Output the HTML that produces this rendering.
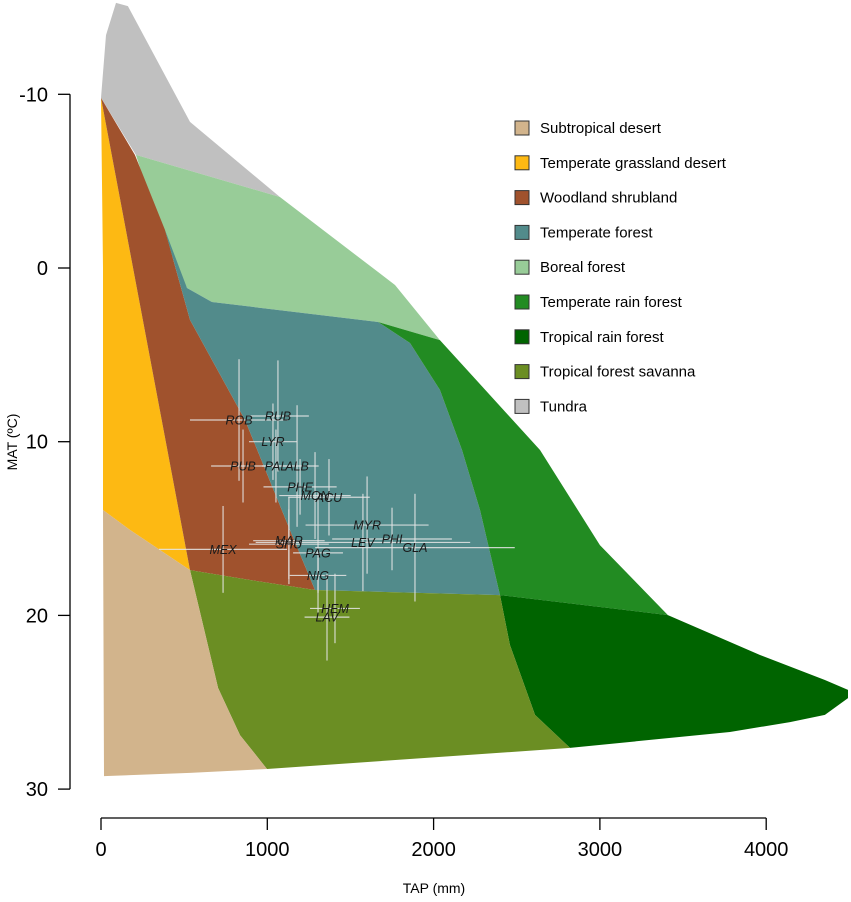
<!DOCTYPE html>
<html><head><meta charset="utf-8"><style>
body{margin:0;background:#fff}
svg{display:block;font-family:"Liberation Sans",sans-serif}
</style></head><body>
<svg id="chart" width="851" height="902" viewBox="0 0 851 902"></svg>
<script>
// ---- data ----
const xTicks=[0,1000,2000,3000,4000];
const yTicks=[-10,0,10,20,30];
const biomeNames=["Tundra","Boreal forest","Temperate grassland desert","Woodland shrubland","Temperate forest","Temperate rain forest","Tropical rain forest","Tropical forest savanna","Subtropical desert"];
const biomeColors=["#c0c0c0","#98cc98","#fdb913","#a0522d","#528b8b","#228b22","#006400","#6b8e23","#d2b48c"];
// polygons as [TAP mm, MAT °C]
const tundraPoly=[[0,-9.79],[30,-13.41],[90,-15.26],[162,-15.08],[535,-8.41],[1076,-4.09],[210,-6.51]];
const borealPoly=[[210,-6.51],[1076,-4.09],[1768,0.98],[2038,4.15],[1666,3.11],[667,1.96],[517,1.15],[355,-2.19]];
const grassPoly=[[0,-9.79],[535,17.39],[174,15.08],[12,13.93],[12,0]];
const woodPoly=[[0,-9.79],[204,-6.51],[385,-2.19],[535,2.99],[866,8.75],[1136,15.08],[1287,18.54],[896,17.96],[535,17.39]];
const tempForPoly=[[385,-2.19],[517,1.15],[667,1.96],[1666,3.11],[1858,4.32],[2038,7.02],[2171,10.48],[2279,13.93],[2399,18.83],[1287,18.54],[1136,15.08],[866,8.75],[535,2.99]];
const tempRainPoly=[[1666,3.11],[2038,4.15],[2640,10.48],[3000,15.95],[3409,19.98],[2399,18.83],[2279,13.93],[2171,10.48],[2038,7.02],[1858,4.32]];
const tropRainPoly=[[2399,18.83],[3409,19.98],[3963,22.28],[4353,23.72],[4492,24.29],[4492,24.76],[4353,25.73],[4143,26.14],[3782,26.71],[2820,27.63],[2610,25.73],[2459,21.7]];
const savPoly=[[535,17.39],[896,17.96],[1287,18.54],[2399,18.83],[2459,21.7],[2610,25.73],[2820,27.63],[998,28.84],[836,26.89],[704,24.18]];
const desertPoly=[[12,13.93],[174,15.08],[535,17.39],[704,24.18],[836,26.89],[998,28.84],[535,29.07],[18,29.25]];
const polys=[tundraPoly,borealPoly,grassPoly,woodPoly,tempForPoly,tempRainPoly,tropRainPoly,savPoly,desertPoly];
const legendNames=["Subtropical desert","Temperate grassland desert","Woodland shrubland","Temperate forest","Boreal forest","Temperate rain forest","Tropical rain forest","Tropical forest savanna","Tundra"];
const legendColors=["#d2b48c","#fdb913","#a0522d","#528b8b","#98cc98","#228b22","#006400","#6b8e23","#c0c0c0"];
const siteNames=["ROB","RUB","LYR","PUB","PAL","ALB","PHE","MON","ACU","MYR","MAR","SHU","LEV","PHI","GLA","MEX","PAG","NIG","HEM","LAV"];
const siteTAP=[830,1064,1034,854,1052,1179,1197,1287,1371,1600,1130,1130,1575,1750,1888,734,1305,1305,1407,1359];
const siteMAT=[8.75,8.52,10.0,11.4,11.4,11.4,12.6,13.1,13.2,14.8,15.7,15.9,15.8,15.6,16.1,16.2,16.4,17.7,19.6,20.1];
const siteTAPsd=[295,186,144,192,84,130,220,215,245,370,215,240,645,360,600,385,150,170,150,135];
const siteMATsd=[3.5,3.2,2.2,2.1,2.1,3.5,1.6,2.5,2.2,2.8,2.5,2.0,2.8,1.8,3.1,2.5,3.5,1.0,2.0,2.5];
// ---- scales ----
const X=v=>101+v*0.1663;
const Y=m=>268+m*17.37;
const svg=document.getElementById('chart');
const NS="http://www.w3.org/2000/svg";
function mk(t,a){const e=document.createElementNS(NS,t);for(const k in a)e.setAttribute(k,a[k]);svg.appendChild(e);return e;}
polys.forEach((p,i)=>{
 const e=mk('polygon',{points:p.map(q=>X(q[0]).toFixed(1)+','+Y(q[1]).toFixed(1)).join(' '),fill:biomeColors[i]});
 
 
});
siteNames.forEach((n,i)=>{
 const cx=X(siteTAP[i]),cy=Y(siteMAT[i]);
 const h=mk('line',{x1:X(siteTAP[i]-siteTAPsd[i]),x2:X(siteTAP[i]+siteTAPsd[i]),y1:cy,y2:cy,stroke:'#e6e6e6','stroke-width':1.2,opacity:0.85});
 
 
 const v=mk('line',{x1:cx,x2:cx,y1:Y(siteMAT[i]-siteMATsd[i]),y2:Y(siteMAT[i]+siteMATsd[i]),stroke:'#e6e6e6','stroke-width':1.2,opacity:0.85});
 
 
});
siteNames.forEach((n,i)=>{
 const t=mk('text',{x:X(siteTAP[i]),y:Y(siteMAT[i])+4.5,'text-anchor':'middle','font-size':12.5,'font-style':'italic',fill:'#1a1a1a'});
 t.textContent=n;
 
 
});
// axes
let ax=mk('line',{x1:70,x2:70,y1:Y(-10),y2:Y(30),stroke:'#000','stroke-width':1.3});

yTicks.forEach(t=>{
 const l=mk('line',{x1:58,x2:70,y1:Y(t),y2:Y(t),stroke:'#000','stroke-width':1.3});
 
 const s=mk('text',{x:48,y:Y(t)+7,'text-anchor':'end','font-size':20,fill:'#000'});
 s.textContent=t;
 
});
ax=mk('line',{x1:X(0),x2:X(4000),y1:818,y2:818,stroke:'#000','stroke-width':1.3});

xTicks.forEach(t=>{
 const l=mk('line',{x1:X(t),x2:X(t),y1:818,y2:830,stroke:'#000','stroke-width':1.3});
 
 const s=mk('text',{x:X(t),y:856,'text-anchor':'middle','font-size':20,fill:'#000'});
 s.textContent=t;
 
});
let tt=mk('text',{x:434,y:893,'text-anchor':'middle','font-size':14,fill:'#000'});
tt.textContent='TAP (mm)';
tt=mk('text',{x:17,y:442,'text-anchor':'middle','font-size':14,fill:'#000',transform:'rotate(-90 17 442)'});
tt.textContent='MAT (ºC)';
// legend
legendNames.forEach((n,i)=>{
 const y=128+i*34.8;
 const r=mk('rect',{x:515,y:y-7,width:14,height:14,fill:legendColors[i],stroke:'#333','stroke-width':1});
 
 const s=mk('text',{x:540,y:y+5,'font-size':15,fill:'#000'});
 s.textContent=n;
 
});
</script>
</body></html>
